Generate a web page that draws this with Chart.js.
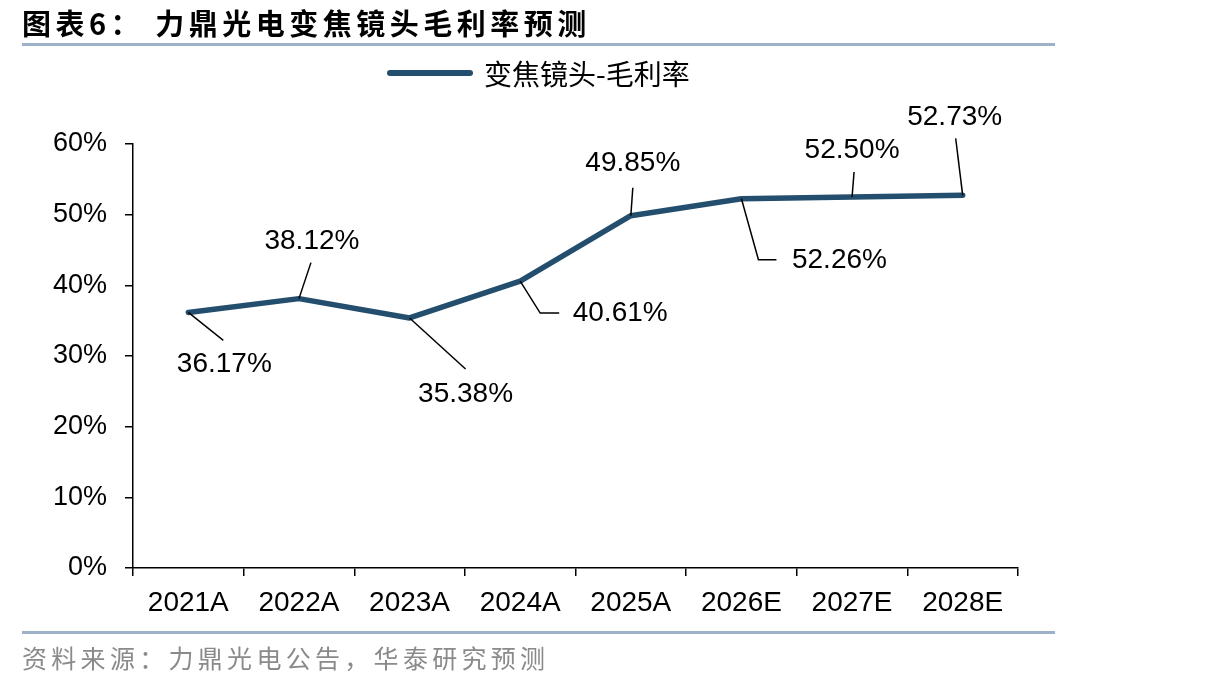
<!DOCTYPE html>
<html>
<head>
<meta charset="utf-8">
<script src="https://cdn.jsdelivr.net/npm/chart.js@4.4.1/dist/chart.umd.min.js"></script>
<style>
  html, body { margin:0; padding:0; background:#fff; }
  body { width:1206px; height:686px; position:relative; overflow:hidden; }
  #c { position:absolute; left:0; top:0; }
  .title { position:absolute; left:22px; top:6px; font-family:"Noto Sans CJK SC", sans-serif; font-weight:700; font-size:29px; line-height:32px; letter-spacing:4.5px; color:#000; white-space:nowrap; }
  .rule { position:absolute; left:22px; width:1033px; height:3px; background:#9DB2C9; }
  .src { position:absolute; left:22px; top:642px; font-family:"Noto Sans CJK SC", sans-serif; font-weight:400; font-size:25px; line-height:30px; letter-spacing:4.3px; color:#8a8a8a; white-space:nowrap; }
</style>
</head>
<body>
<canvas id="c" width="1206" height="686"></canvas>
<div class="title">图表6：&nbsp;力鼎光电变焦镜头毛利率预测</div>
<div class="rule" style="top:43px"></div>
<div class="rule" style="top:631px"></div>
<div class="src">资料来源：力鼎光电公告，华泰研究预测</div>
<script>
const categories = ['2021A','2022A','2023A','2024A','2025A','2026E','2027E','2028E'];
const marginValues = [36.17, 38.12, 35.38, 40.61, 49.85, 52.26, 52.50, 52.73];
const yTicks = [0, 10, 20, 30, 40, 50, 60];
const seriesName = '变焦镜头-毛利率';

// label placement relative to each point (text centre and leader-line path)
const labelLayout = [
  { tx: 36, ty: 52, path: [[35, 28]] },
  { tx: 13, ty: -57, path: [[12, -36]] },
  { tx: 56, ty: 76, path: [[56, 51]] },
  { tx: 100, ty: 32, path: [[20, 32], [39, 32]] },
  { tx: 2, ty: -52, path: [[2, -28]] },
  { tx: 98, ty: 62, path: [[17, 61], [35, 61]] },
  { tx: 0, ty: -47, path: [[2, -25]] },
  { tx: -8, ty: -78, path: [[-7, -57]] }
];

const LINE_COLOR = '#244E6E';
const NUM_FONT = '"Liberation Sans", Arial, sans-serif';

const labelPlugin = {
  id: 'leaderLabels',
  afterDatasetsDraw(chart) {
    const ctx = chart.ctx;
    const meta = chart.getDatasetMeta(0);
    ctx.save();
    meta.data.forEach((pt, i) => {
      const L = labelLayout[i];
      ctx.beginPath();
      ctx.moveTo(pt.x, pt.y);
      L.path.forEach(p => ctx.lineTo(pt.x + p[0], pt.y + p[1]));
      ctx.strokeStyle = '#000';
      ctx.lineWidth = 1.5;
      ctx.stroke();
      ctx.fillStyle = '#000';
      ctx.font = '28px ' + NUM_FONT;
      ctx.textAlign = 'center';
      ctx.textBaseline = 'middle';
      ctx.fillText(marginValues[i].toFixed(2) + '%', pt.x + L.tx, pt.y + L.ty);
    });
    ctx.restore();
  }
};

const legendPlugin = {
  id: 'customLegend',
  afterDraw(chart) {
    const ctx = chart.ctx;
    ctx.save();
    ctx.beginPath();
    ctx.moveTo(390, 73);
    ctx.lineTo(470, 73);
    ctx.strokeStyle = LINE_COLOR;
    ctx.lineWidth = 6;
    ctx.lineCap = 'round';
    ctx.stroke();
    ctx.fillStyle = '#000';
    ctx.font = '28px "Noto Sans CJK SC", sans-serif';
    ctx.textAlign = 'left';
    ctx.textBaseline = 'middle';
    ctx.fillText(seriesName, 484, 74);
    ctx.restore();
  }
};

new Chart(document.getElementById('c'), {
  type: 'line',
  data: {
    labels: categories,
    datasets: [{
      label: seriesName,
      data: marginValues,
      borderColor: LINE_COLOR,
      backgroundColor: LINE_COLOR,
      borderWidth: 5.5,
      pointRadius: 0,
      tension: 0,
      borderJoinStyle: 'round',
      borderCapStyle: 'round'
    }]
  },
  options: {
    responsive: false,
    animation: false,
    devicePixelRatio: 1,
    layout: { padding: { left: 33, right: 188, top: 144, bottom: 58 } },
    plugins: { legend: { display: false }, tooltip: { enabled: false }, title: { display: false } },
    scales: {
      x: {
        offset: true,
        afterFit(s) { s.height = 60; },
        grid: { offset: true, drawOnChartArea: false, drawTicks: true, tickLength: 8, color: '#000', lineWidth: 1.5 },
        border: { display: true, color: '#000', width: 1.5 },
        ticks: { color: '#000', font: { family: NUM_FONT, size: 28 }, padding: 10, maxRotation: 0, autoSkip: false }
      },
      y: {
        min: 0, max: 60,
        afterFit(s) { s.width = 100; },
        afterBuildTicks(s) { s.ticks = yTicks.map(v => ({ value: v })); },
        grid: { drawOnChartArea: false, drawTicks: true, tickLength: 8, color: '#000', lineWidth: 1.5 },
        border: { display: true, color: '#000', width: 1.5 },
        ticks: { color: '#000', font: { family: NUM_FONT, size: 27 }, padding: 18, callback: v => v + '%' }
      }
    }
  },
  plugins: [labelPlugin, legendPlugin]
});
</script>
</body>
</html>
